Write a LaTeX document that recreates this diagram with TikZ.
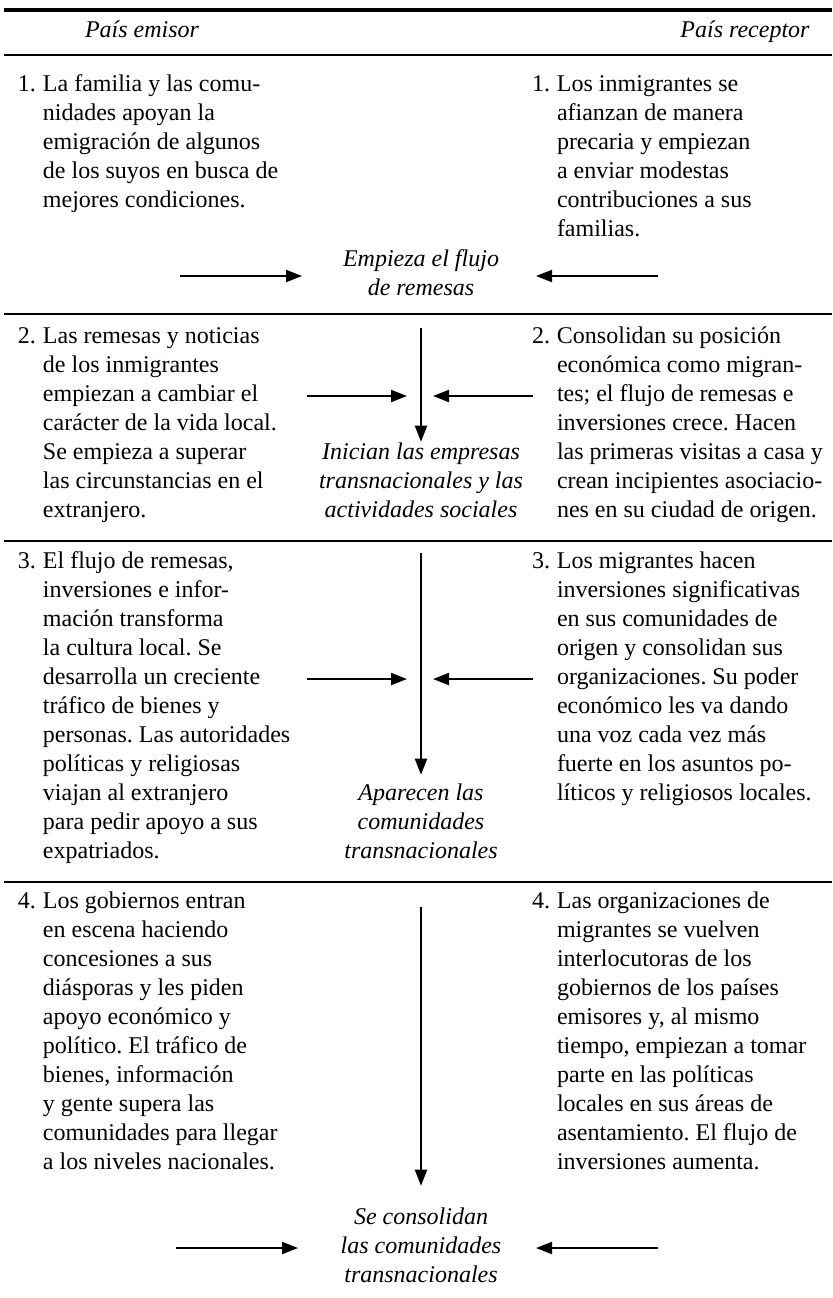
\documentclass[tikz,border=0pt]{standalone}
\usepackage{fontspec}
\setmainfont{Liberation Serif}
\usetikzlibrary{arrows.meta}
\frenchspacing

\newcommand{\steptab}[1]{\begin{tabular}[t]{@{}l@{\hspace{3.5pt}}l@{}}#1\end{tabular}}
\newcommand{\midtab}[1]{\begin{tabular}[t]{@{}c@{}}#1\end{tabular}}

\begin{document}
\begin{tikzpicture}[
    x=0.5pt, y=-0.5pt,
    every node/.style={inner sep=0pt, outer sep=0pt, font=\fontsize{12}{14.5}\selectfont},
    stepbox/.style={anchor=base west, align=left},
    midlabel/.style={anchor=base, font=\fontsize{12}{14.5}\selectfont\itshape},
    flow/.style={line width=1pt, -{Triangle[length=8pt,width=6pt]}},
    rulethin/.style={line width=0.7pt},
    rulethick/.style={line width=1.6pt}
]
\useasboundingbox (0,0) rectangle (832,1298);

% Rules
\draw[rulethick] (4,10) -- (832,10);
\draw[rulethin] (4,55) -- (832,55);
\draw[rulethin] (4,314) -- (832,314);
\draw[rulethin] (4,541) -- (832,541);
\draw[rulethin] (4,882) -- (832,882);

% Headers
\node[anchor=base, font=\fontsize{12}{14.5}\selectfont\itshape] (emisor) at (142,37) {País emisor};
\node[anchor=base, font=\fontsize{12}{14.5}\selectfont\itshape] (receptor) at (745,37) {País receptor};

% Nodes
\node[stepbox] (left1) at (18,91) {\steptab{1. & La familia y las comu-\\ & nidades apoyan la\\ & emigración de algunos\\ & de los suyos en busca de\\ & mejores condiciones.}};
\node[stepbox] (right1) at (532,91) {\steptab{1. & Los inmigrantes se\\ & afianzan de manera\\ & precaria y empiezan\\ & a enviar modestas\\ & contribuciones a sus\\ & familias.}};
\node[midlabel] (mid1) at (421,266) {\midtab{Empieza el flujo\\ de remesas}};

\node[stepbox] (left2) at (18,343) {\steptab{2. & Las remesas y noticias\\ & de los inmigrantes\\ & empiezan a cambiar el\\ & carácter de la vida local.\\ & Se empieza a superar\\ & las circunstancias en el\\ & extranjero.}};
\node[stepbox] (right2) at (532,343) {\steptab{2. & Consolidan su posición\\ & económica como migran-\\ & tes; el flujo de remesas e\\ & inversiones crece. Hacen\\ & las primeras visitas a casa y\\ & crean incipientes asociacio-\\ & nes en su ciudad de origen.}};
\node[midlabel] (mid2) at (421,459) {\midtab{Inician las empresas\\ transnacionales y las\\ actividades sociales}};

\node[stepbox] (left3) at (18,568) {\steptab{3. & El flujo de remesas,\\ & inversiones e infor-\\ & mación transforma\\ & la cultura local. Se\\ & desarrolla un creciente\\ & tráfico de bienes y\\ & personas. Las autoridades\\ & políticas y religiosas\\ & viajan al extranjero\\ & para pedir apoyo a sus\\ & expatriados.}};
\node[stepbox] (right3) at (532,568) {\steptab{3. & Los migrantes hacen\\ & inversiones significativas\\ & en sus comunidades de\\ & origen y consolidan sus\\ & organizaciones. Su poder\\ & económico les va dando\\ & una voz cada vez más\\ & fuerte en los asuntos po-\\ & líticos y religiosos locales.}};
\node[midlabel] (mid3) at (421,800) {\midtab{Aparecen las\\ comunidades\\ transnacionales}};

\node[stepbox] (left4) at (18,908) {\steptab{4. & Los gobiernos entran\\ & en escena haciendo\\ & concesiones a sus\\ & diásporas y les piden\\ & apoyo económico y\\ & político. El tráfico de\\ & bienes, información\\ & y gente supera las\\ & comunidades para llegar\\ & a los niveles nacionales.}};
\node[stepbox] (right4) at (532,908) {\steptab{4. & Las organizaciones de\\ & migrantes se vuelven\\ & interlocutoras de los\\ & gobiernos de los países\\ & emisores y, al mismo\\ & tiempo, empiezan a tomar\\ & parte en las políticas\\ & locales en sus áreas de\\ & asentamiento. El flujo de\\ & inversiones aumenta.}};
\node[midlabel] (mid4) at (421,1224) {\midtab{Se consolidan\\ las comunidades\\ transnacionales}};

% Arrow ends
\coordinate (in1l) at (180,276);  \coordinate (to1l) at (302,276);
\coordinate (in1r) at (658,276);  \coordinate (to1r) at (536,276);
\coordinate (in2l) at (307,396);  \coordinate (to2l) at (407,396);
\coordinate (in2r) at (533,396);  \coordinate (to2r) at (433,396);
\coordinate (in3l) at (307,679);  \coordinate (to3l) at (407,679);
\coordinate (in3r) at (533,679);  \coordinate (to3r) at (433,679);
\coordinate (in4l) at (176,1248); \coordinate (to4l) at (298,1248);
\coordinate (in4r) at (658,1248); \coordinate (to4r) at (536,1248);
\coordinate (down2) at (421,328); \coordinate (down3) at (421,553);
\coordinate (down4) at (421,907);

% Edges
\draw[flow] (in1l) -- (to1l);
\draw[flow] (in1r) -- (to1r);
\draw[flow] (in2l) -- (to2l);
\draw[flow] (in2r) -- (to2r);
\draw[flow] (down2) -- ([yshift=-1.5pt]mid2.north);
\draw[flow] (in3l) -- (to3l);
\draw[flow] (in3r) -- (to3r);
\draw[flow] (down3) -- ([yshift=2.5pt]mid3.north);
\draw[flow] (in4l) -- (to4l);
\draw[flow] (in4r) -- (to4r);
\draw[flow] (down4) -- ([yshift=9pt]mid4.north);

\end{tikzpicture}
\end{document}
